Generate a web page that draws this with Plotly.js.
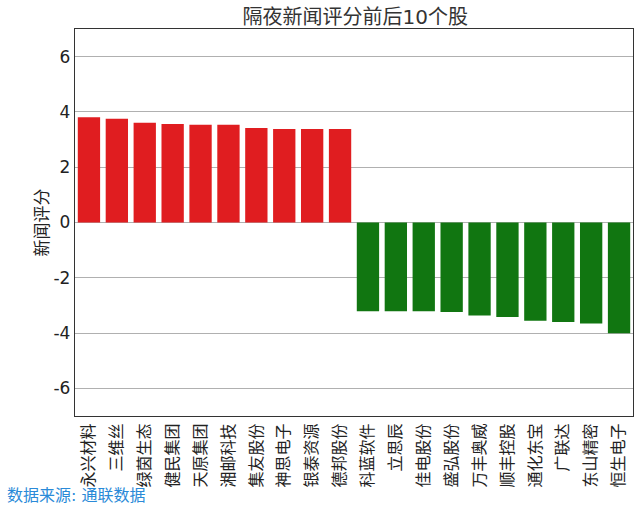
<!DOCTYPE html>
<html><head><meta charset="utf-8">
<script src="https://cdn.plot.ly/plotly-3.0.1.min.js"></script>
<style>body{margin:0;background:#fff}#c{width:640px;height:511px}</style>
</head><body><div id="c"></div>
<script>
const names = ["永兴材料","三维丝","绿茵生态","健民集团","天原集团","湘邮科技","集友股份","神思电子","银泰资源","德邦股份",
               "科蓝软件","立思辰","佳电股份","盛弘股份","万丰奥威","顺丰控股","通化东宝","广联达","东山精密","恒生电子"];
const scores = [3.81,3.75,3.61,3.56,3.54,3.54,3.42,3.38,3.38,3.38,
                -3.21,-3.21,-3.21,-3.24,-3.36,-3.42,-3.55,-3.60,-3.65,-4.01];
const colors = scores.map(v => v >= 0 ? 'rgb(224,29,32)' : 'rgb(17,118,17)');
const FONT = 'DejaVu Sans, Noto Sans CJK SC, sans-serif';
Plotly.newPlot('c', [{
  type: 'bar', x: names, y: scores, marker: {color: colors, line: {width: 0}}, width: 0.8
}], {
  width: 640, height: 511,
  margin: {l: 75, r: 7, t: 29, b: 95},
  paper_bgcolor: '#fff', plot_bgcolor: '#fff',
  font: {family: FONT, size: 16, color: '#222'},
  title: {text: '隔夜新闻评分前后10个股', x: 0.555, xanchor: 'center', y: 0.966, yanchor: 'middle', font: {size: 20, color: '#333'}},
  xaxis: {tickangle: -90, showgrid: false, showline: true, mirror: true, linecolor: '#333', linewidth: 1.2,
          ticks: '', tickfont: {size: 16, color: '#222'}, range: [-0.5, 19.5]},
  yaxis: {range: [-7, 7], tickvals: [-6,-4,-2,0,2,4,6], ticktext: ['-6','-4','-2','0','2','4','6'],
          showgrid: true, gridcolor: '#b0b0b0', gridwidth: 1, zeroline: false,
          showline: true, mirror: true, linecolor: '#333', linewidth: 1.2, ticks: '',
          tickfont: {size: 17, color: '#222'},
          title: {text: '新闻评分', font: {size: 17, color: '#222'}, standoff: 0}},
  showlegend: false,
  annotations: [{text: '数据来源: 通联数据', xref: 'paper', yref: 'paper', x: -0.126, y: -0.205,
                 xanchor: 'left', yanchor: 'middle', showarrow: false, font: {size: 16, color: '#2a8ad8'}}]
}, {staticPlot: true});
</script></body></html>
